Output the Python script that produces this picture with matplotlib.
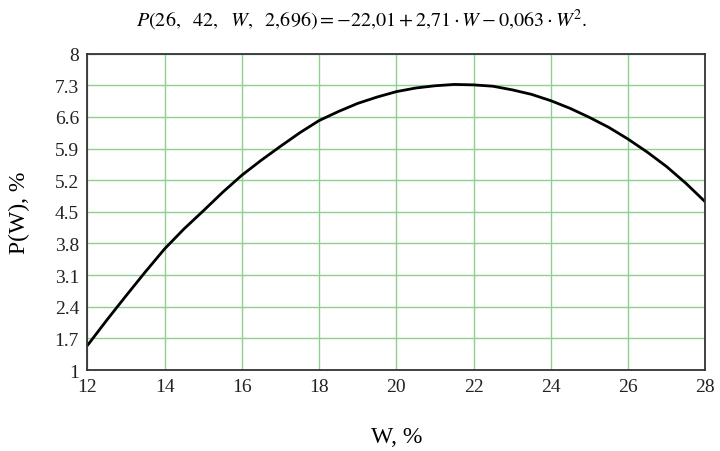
import matplotlib
matplotlib.use("Agg")
import matplotlib.pyplot as plt

# values (every half unit of W)
w_vals = [12, 12.5, 13, 13.5, 14, 14.5, 15, 15.5, 16, 16.5, 17, 17.5, 18, 18.5,
          19, 19.5, 20, 20.5, 21, 21.5, 22, 22.5, 23, 23.5, 24, 24.5, 25, 25.5,
          26, 26.5, 27, 27.5, 28]
p_vals = [1.54, 2.10, 2.64, 3.17, 3.68, 4.12, 4.52, 4.93, 5.31, 5.64, 5.95, 6.25,
          6.52, 6.72, 6.90, 7.04, 7.16, 7.24, 7.29, 7.32, 7.31, 7.28, 7.20, 7.10,
          6.96, 6.79, 6.59, 6.37, 6.11, 5.82, 5.50, 5.13, 4.72]

x_ticks = [12, 14, 16, 18, 20, 22, 24, 26, 28]
y_ticks = [1, 1.7, 2.4, 3.1, 3.8, 4.5, 5.2, 5.9, 6.6, 7.3, 8]

plt.rcParams['font.family'] = ['Liberation Serif', 'DejaVu Serif']
plt.rcParams['mathtext.fontset'] = 'stix'

fig = plt.figure(figsize=(7.2, 4.52), dpi=100)
ax = fig.add_axes([0.1213, 0.1792, 0.8583, 0.6998])

ax.plot(w_vals, p_vals, color='black', linewidth=2.0,
        solid_joinstyle='round', solid_capstyle='butt')

ax.set_xlim(12, 28)
ax.set_ylim(1, 8)
ax.set_xticks(x_ticks)
ax.set_yticks(y_ticks)
ax.set_yticklabels([f"{v:g}" for v in y_ticks])
ax.tick_params(length=0, labelsize=14, pad=6, colors='#222222')
ax.grid(True, color='#8fd08f', linewidth=1.0)
for s in ax.spines.values():
    s.set_color('#333333')
    s.set_linewidth(1.3)

ax.set_xlabel('W, %', fontsize=17, labelpad=22)
ax.set_ylabel('P(W), %', fontsize=17, labelpad=18)

fig.text(0.503, 0.955,
         r"$P\left(26,\ \ 42,\ \ W,\ \ 2{,}696\right) = -22{,}01 + 2{,}71\cdot W - 0{,}063\cdot W^2.$",
         ha='center', va='center', fontsize=14.5)

fig.savefig('out.png', dpi=100)
